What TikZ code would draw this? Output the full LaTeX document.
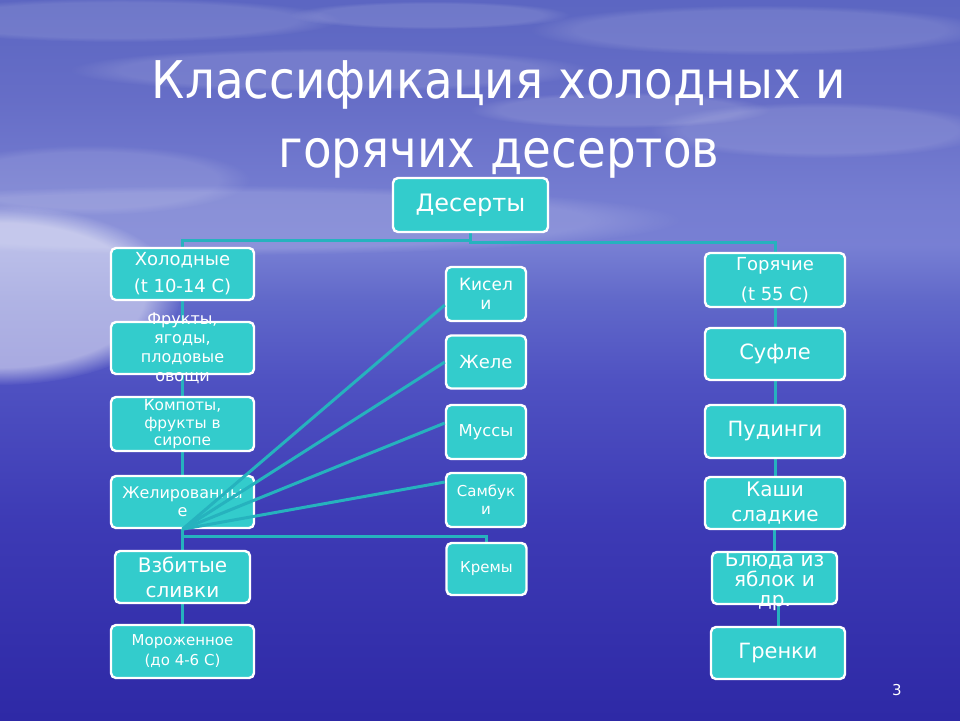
\documentclass[tikz,border=0pt]{standalone}
\usepackage{fontspec}
\setmainfont{DejaVu Sans}
\newfontfamily\titlefont[FakeStretch=0.9]{DejaVu Sans}
\usetikzlibrary{positioning,calc,fadings}

\definecolor{boxfill}{RGB}{51,204,204}
\definecolor{linkcol}{RGB}{38,178,190}
\pgfdeclareverticalshading{seasky}{100bp}{rgb(0bp)=(0.18,0.16,0.65); rgb(25bp)=(0.18,0.16,0.65); rgb(38.9bp)=(0.24,0.23,0.71); rgb(48.6bp)=(0.31,0.32,0.76); rgb(54.2bp)=(0.38,0.41,0.79); rgb(58bp)=(0.47,0.50,0.83); rgb(61.1bp)=(0.46,0.49,0.82); rgb(68.1bp)=(0.40,0.43,0.78); rgb(75bp)=(0.36,0.40,0.76); rgb(100bp)=(0.36,0.40,0.76)}
\pgfdeclarelayer{background}
\pgfdeclarelayer{lines}
\pgfsetlayers{background,lines,main}

\begin{document}
\begin{tikzpicture}[x=0.5pt, y=-0.5pt,
    box/.style={draw=white, line width=1.2pt, fill=boxfill, rounded corners=2.5pt, text=white, align=center, inner sep=0pt},
    boxtext/.style={text=white, align=center, inner sep=0pt},
    link/.style={draw=linkcol, line width=1.5pt}]
  \useasboundingbox (0,0) rectangle (960,720);

  % Sea and sky
  \begin{pgfonlayer}{background}
    \shade[shading=seasky] (0,0) rectangle (960,720);
    \fill[white, opacity=0.5, path fading=circle with fuzzy edge 20 percent] (0,295) ellipse [x radius=180, y radius=90];
    \fill[white, opacity=0.15, path fading=circle with fuzzy edge 20 percent] (220,220) ellipse [x radius=460, y radius=35];
    \foreach \cx/\cy/\rx/\ry in {120/20/220/22, 330/70/260/22, 760/30/230/25, 820/130/170/28, 620/110/150/18, 90/180/160/35, 430/15/140/14}
      \fill[white, opacity=0.12, path fading=circle with fuzzy edge 20 percent] (\cx,\cy) ellipse [x radius=\rx, y radius=\ry];
  \end{pgfonlayer}

  % Title
  \node[boxtext, font=\titlefont\fontsize{26}{34.5}\selectfont] (title) at (499,119) {Классификация холодных и\\горячих десертов};

  % Root
  \node[box, minimum width=77.5pt, minimum height=27pt, font=\fontsize{12}{14}\selectfont] (des) at (470.5,205) {Десерты};

  % Cold desserts
  \node[box, minimum width=71.5pt, minimum height=26pt, font=\fontsize{9}{13.5}\selectfont] (hol) at (182.5,274) {Холодные\\(t 10-14 C)};
  \node[box, minimum width=71.5pt, minimum height=26pt] (frukt) at (182.5,348) {};
  \node[box, minimum width=71.5pt, minimum height=27pt] (kompot) at (182.5,424) {};
  \node[box, minimum width=71.5pt, minimum height=26pt, font=\fontsize{8}{9}\selectfont] (zhel) at (182.5,502) {Желированны\\е};
  \node[box, minimum width=67.5pt, minimum height=26pt, font=\fontsize{10}{12.5}\selectfont] (vzbit) at (182.5,577) {Взбитые\\сливки};
  \node[box, minimum width=71.5pt, minimum height=26.5pt, font=\fontsize{7.5}{10}\selectfont] (moroz) at (182.5,651.5) {Мороженное\\(до 4-6 С)};

  % Jellied desserts
  \node[box, minimum width=40pt, minimum height=27pt, font=\fontsize{8.5}{9.5}\selectfont] (kis) at (486,294) {Кисел\\и};
  \node[box, minimum width=40pt, minimum height=26.5pt, font=\fontsize{9}{11}\selectfont] (zhele) at (486,362) {Желе};
  \node[box, minimum width=40pt, minimum height=27pt, font=\fontsize{8.2}{10}\selectfont] (muss) at (486,432) {Муссы};
  \node[box, minimum width=40pt, minimum height=27pt, font=\fontsize{7.5}{9}\selectfont] (samb) at (486,500) {Самбук\\и};
  \node[box, minimum width=40pt, minimum height=26pt, font=\fontsize{7.5}{9}\selectfont] (krem) at (486.5,569) {Кремы};

  % Hot desserts
  \node[box, minimum width=70pt, minimum height=27pt, font=\fontsize{9}{15}\selectfont] (gor) at (775,280) {Горячие\\(t 55 C)};
  \node[box, minimum width=70pt, minimum height=26pt, font=\fontsize{10.5}{12}\selectfont] (sufle) at (775,354) {Суфле};
  \node[box, minimum width=70pt, minimum height=26.5pt, font=\fontsize{10.5}{12}\selectfont] (puding) at (775,431.5) {Пудинги};
  \node[box, minimum width=70pt, minimum height=26pt, font=\fontsize{10}{12.5}\selectfont] (kashi) at (775,503) {Каши\\сладкие};
  \node[box, minimum width=62.5pt, minimum height=26pt] (bluda) at (774.5,578) {};
  \node[box, minimum width=67pt, minimum height=26pt, font=\fontsize{10.5}{12}\selectfont] (grenki) at (778,653) {Гренки};

  % Texts running over their boxes
  \node[boxtext, font=\fontsize{8}{9.5}\selectfont] (frukt-t) at (frukt) {Фрукты,\\ягоды,\\плодовые\\овощи};
  \node[boxtext, font=\fontsize{7.7}{8.7}\selectfont] (kompot-t) at (kompot) {Компоты,\\фрукты в\\сиропе};
  \node[boxtext, font=\fontsize{10}{10}\selectfont] (bluda-t) at ([yshift=-1.5pt]bluda.center) {Блюда из\\яблок и\\др.};

  % Page number
  \node[boxtext, font=\fontsize{7.5}{9}\selectfont] (pnum) at (897,690) {3};

  % Connectors
  \begin{pgfonlayer}{lines}
    \draw[link] (des.south) -- ++(0,7) -| (hol.north);
    \draw[link] (des.south) -- ++(0,9) -| (gor.north);
    \foreach \a/\b in {hol/frukt, frukt/kompot, kompot/zhel, zhel/vzbit, vzbit/moroz, gor/sufle, sufle/puding, puding/kashi, kashi/bluda, bluda/grenki}
      \draw[link] (\b.north) -- (\b.north |- \a.south);
    \draw[link] ([yshift=-3.5pt]zhel.south) -| (krem.north);
  \end{pgfonlayer}
  \foreach \t/\s in {kis/-5.5pt, zhele/0pt, muss/4.5pt, samb/9pt}
    \draw[link] (zhel.south) -- ([yshift=\s]\t.west);
\end{tikzpicture}
\end{document}
